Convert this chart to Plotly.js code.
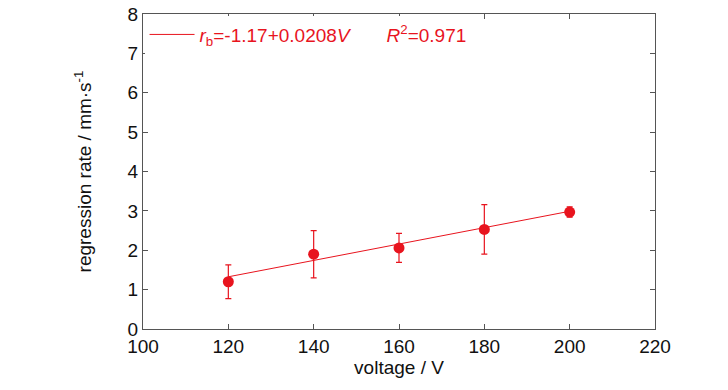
<!DOCTYPE html>
<html><head><meta charset="utf-8">
<script src="https://cdn.plot.ly/plotly-3.0.1.min.js"></script>
<style>body{margin:0;background:#fff}#c{width:728px;height:390px}</style>
</head><body><div id="c"></div>
<script>
const voltage = [120, 140, 160, 180, 200];
const rate = [1.20, 1.90, 2.06, 2.53, 2.97];
const rateErr = [0.43, 0.60, 0.37, 0.63, 0.13];
const fitIntercept = -1.17;
const fitSlope = 0.0208;
const fitX = [120, 200];
const fitY = fitX.map(v => fitIntercept + fitSlope * v);
const xTicks = [100, 120, 140, 160, 180, 200, 220];
const yTicks = [0, 1, 2, 3, 4, 5, 6, 7, 8];

const red = '#e8141e';
const font = "'Liberation Sans Narrow', 'Arial Narrow', 'Liberation Sans', Arial, sans-serif";

const traces = [
  {x: fitX, y: fitY, mode: 'lines', line: {color: red, width: 1},
   name: '<i>r</i><sub>b</sub>=-1.17+0.0208<i>V</i>       <i>R</i><sup>2</sup>=0.971',
   showlegend: true, hoverinfo: 'skip'},
  {x: voltage, y: rate, mode: 'markers', showlegend: false,
   marker: {color: red, size: 11},
   error_y: {type: 'data', array: rateErr, visible: true, color: red, thickness: 1.2, width: 3}}
];

const axisCommon = {showgrid: false, zeroline: false, showline: true, mirror: 'ticks',
  linecolor: '#555', linewidth: 1, ticks: 'inside', ticklen: 5, tickcolor: '#555',
  tickfont: {family: font, size: 19, color: '#111'}};

const layout = {
  width: 728, height: 390,
  margin: {l: 143, r: 73, t: 14, b: 61},
  paper_bgcolor: '#fff', plot_bgcolor: '#fff',
  font: {family: font, color: '#111'},
  xaxis: Object.assign({}, axisCommon, {range: [100, 220], tickvals: xTicks,
    title: {text: 'voltage / V', font: {family: font, size: 19}, standoff: 2}}),
  yaxis: Object.assign({}, axisCommon, {range: [0, 8], tickvals: yTicks,
    title: {text: 'regression rate / mm·s<sup>-1</sup>', font: {family: font, size: 19}, standoff: 30}}),
  legend: {x: 0.003, y: 0.995, xanchor: 'left', yanchor: 'top', bgcolor: 'rgba(255,255,255,1)',
    borderwidth: 0, font: {family: font, size: 19, color: red}, itemwidth: 45,
    tracegroupgap: 0},
  showlegend: true
};

Plotly.newPlot('c', traces, layout, {displayModeBar: false, staticPlot: true});
</script></body></html>
